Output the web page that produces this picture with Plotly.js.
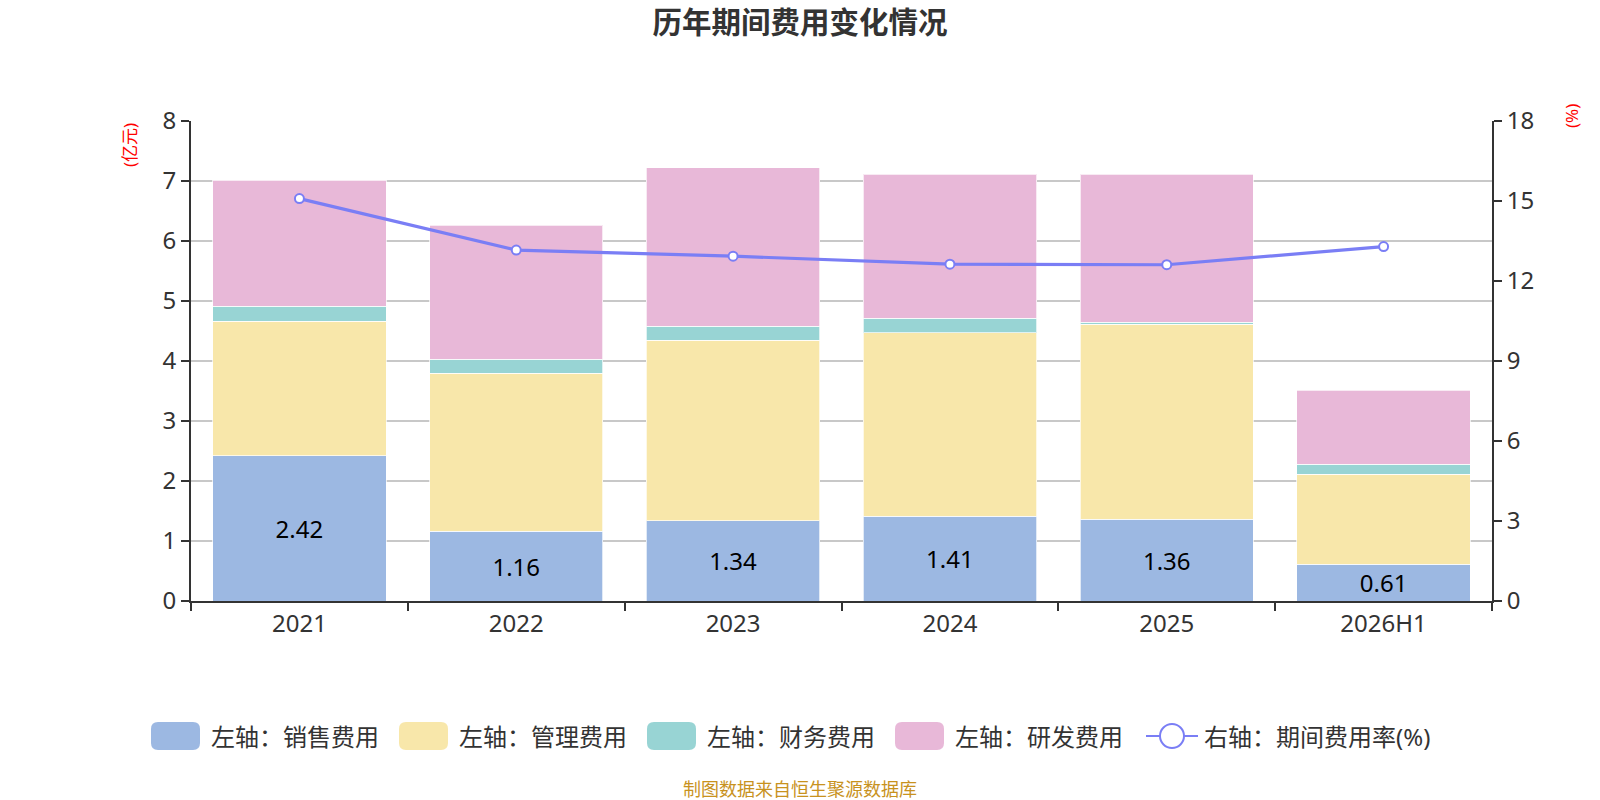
<!DOCTYPE html>
<html>
<head>
<meta charset="utf-8">
<script src="https://cdn.plot.ly/plotly-3.0.1.min.js"></script>
<style>
  html, body { margin: 0; padding: 0; background: #fff; }
  #chart { width: 1600px; height: 800px; }
</style>
</head>
<body>
<div id="chart"></div>
<script>
// ---- data (亿元 / %) ----
const years = ['2021', '2022', '2023', '2024', '2025', '2026H1'];
const salesCost = [2.42, 1.16, 1.34, 1.41, 1.36, 0.61];
const adminCost = [2.24, 2.64, 3.01, 3.06, 3.25, 1.50];
const financeCost = [0.25, 0.23, 0.23, 0.24, 0.04, 0.17];
const rdCost = [2.10, 2.23, 2.64, 2.40, 2.46, 1.23];
const expenseRate = [15.09, 13.16, 12.93, 12.63, 12.61, 13.29];

const seriesNames = ['左轴：销售费用', '左轴：管理费用', '左轴：财务费用', '左轴：研发费用', '右轴：期间费用率(%)'];
const barColors = ['#9cb8e2', '#f8e7aa', '#98d4d4', '#e8b8d8'];
const lineColor = '#7a7ef5';

const FONT = '"Noto Sans", "Noto Sans CJK SC", sans-serif';
const W = 1600, H = 800;
const M = { l: 191, r: 108, t: 121, b: 199 };

// pixel -> paper helpers for the hand-built legend
const px = x => (x - M.l) / (W - M.l - M.r);
const py = y => (H - M.b - y) / (H - M.t - M.b);

function roundRect(x0, y0, x1, y1, r) {
    const P = (x, y) => px(x) + ',' + py(y);
    return 'M' + P(x0 + r, y0) + ' L' + P(x1 - r, y0) + ' Q' + P(x1, y0) + ' ' + P(x1, y0 + r) +
        ' L' + P(x1, y1 - r) + ' Q' + P(x1, y1) + ' ' + P(x1 - r, y1) +
        ' L' + P(x0 + r, y1) + ' Q' + P(x0, y1) + ' ' + P(x0, y1 - r) +
        ' L' + P(x0, y0 + r) + ' Q' + P(x0, y0) + ' ' + P(x0 + r, y0) + ' Z';
}

const barData = [salesCost, adminCost, financeCost, rdCost];
const traces = barData.map((vals, i) => ({
    type: 'bar', x: years, y: vals, name: seriesNames[i],
    marker: { color: barColors[i], line: { color: 'rgba(255,255,255,0.7)', width: 1 } },
    text: i === 0 ? vals.map(v => v.toFixed(2)) : undefined,
    textposition: i === 0 ? 'inside' : 'none',
    insidetextanchor: 'middle',
    constraintext: 'none',
    textangle: 0,
    textfont: { size: 24, color: '#000', family: FONT },
    hoverinfo: 'x+y+name',
}));
traces.push({
    type: 'scatter', mode: 'lines+markers', x: years, y: expenseRate, yaxis: 'y2',
    name: seriesNames[4],
    line: { color: lineColor, width: 3.2 },
    marker: { size: 9, color: '#fff', line: { color: lineColor, width: 2 } },
});

// custom legend (big rounded swatches like the original)
const legendY = 736;
const swatchX = [151, 399, 647, 895];
const shapes = [];
const annotations = [];
const legendFont = { size: 24, color: '#333', family: FONT };
swatchX.forEach((x, i) => {
    shapes.push({ type: 'path', xref: 'paper', yref: 'paper', path: roundRect(x, legendY - 14, x + 49, legendY + 14, 7),
                  fillcolor: barColors[i], line: { width: 0 } });
    annotations.push({ xref: 'paper', yref: 'paper', x: px(x + 58), y: py(legendY), xanchor: 'left', yanchor: 'middle',
                       text: seriesNames[i], showarrow: false, font: legendFont });
});
shapes.push({ type: 'line', xref: 'paper', yref: 'paper', x0: px(1146), x1: px(1198), y0: py(legendY), y1: py(legendY),
              line: { color: lineColor, width: 2 } });
shapes.push({ type: 'circle', xref: 'paper', yref: 'paper', x0: px(1160), x1: px(1184), y0: py(legendY - 12), y1: py(legendY + 12),
              fillcolor: '#fff', line: { color: lineColor, width: 2 } });
annotations.push({ xref: 'paper', yref: 'paper', x: px(1202), y: py(legendY), xanchor: 'left', yanchor: 'middle',
                   text: seriesNames[4], showarrow: false, font: legendFont });

// axis unit labels and source note
annotations.push({ xref: 'paper', yref: 'paper', x: px(129), y: py(145), xanchor: 'center', yanchor: 'middle',
                   textangle: -90, showarrow: false,
                   text: '(亿元)', font: { size: 17, color: '#ff0000', family: FONT } });
annotations.push({ xref: 'paper', yref: 'paper', x: px(1572), y: py(116), xanchor: 'center', yanchor: 'middle',
                   textangle: -90, showarrow: false,
                   text: '(%)', font: { size: 17, color: '#ff0000', family: FONT } });
annotations.push({ xref: 'paper', yref: 'paper', x: px(800), y: py(789), xanchor: 'center', yanchor: 'middle',
                   showarrow: false,
                   text: '制图数据来自恒生聚源数据库', font: { size: 18, color: '#c8921e', family: FONT } });

const axisCommon = {
    showline: true, linecolor: '#333', linewidth: 2,
    ticks: 'outside', ticklen: 8, tickwidth: 2, tickcolor: '#333',
    tickfont: { size: 24, color: '#333', family: FONT },
    zeroline: false, fixedrange: true,
};

const layout = {
    width: W, height: H,
    margin: M,
    paper_bgcolor: '#fff', plot_bgcolor: '#fff',
    font: { family: FONT, color: '#333' },
    title: { text: '<b>历年期间费用变化情况</b>', x: 0.5, xref: 'container', y: 1 - 23 / H, yref: 'container',
             xanchor: 'center', yanchor: 'middle', font: { size: 29.5, color: '#333', family: '"Noto Sans CJK SC", sans-serif' } },
    barmode: 'stack', bargap: 0.2,
    showlegend: false,
    xaxis: Object.assign({}, axisCommon, { type: 'category', tickson: 'boundaries', showgrid: false }),
    yaxis: Object.assign({}, axisCommon, { range: [0, 8], dtick: 1, showgrid: true, gridcolor: '#c8c8c8', gridwidth: 1.2 }),
    yaxis2: Object.assign({}, axisCommon, { range: [0, 18], dtick: 3, overlaying: 'y', side: 'right', showgrid: false }),
    shapes, annotations,
};

Plotly.newPlot('chart', traces, layout, { displayModeBar: false, staticPlot: true });
</script>
</body>
</html>
